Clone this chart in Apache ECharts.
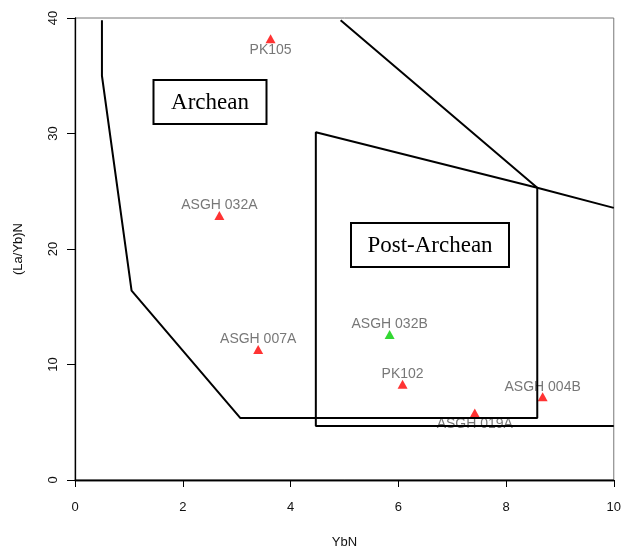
<!DOCTYPE html>
<html>
<head>
<meta charset="utf-8">
<script src="https://cdn.jsdelivr.net/npm/echarts@6/dist/echarts.min.js"></script>
<style>
  html, body { margin: 0; padding: 0; background: #fff; }
  #chart { width: 624px; height: 554px; }
</style>
</head>
<body>
<div id="chart"></div>
<script>
// Sample compositions (chondrite-normalised)
const sampleNames = ["PK105", "ASGH 032A", "ASGH 007A", "ASGH 032B", "PK102", "ASGH 019A", "ASGH 004B"];
const ybN = [3.63, 2.68, 3.40, 5.84, 6.08, 7.42, 8.68];
const laYbN = [38.2, 22.9, 11.3, 12.6, 8.3, 5.8, 7.2];
const sampleGroup = ["red", "red", "red", "green", "red", "red", "red"];
const labelBelow = [true, false, false, false, false, true, false];

// Field boundaries
const archeanX = [0.5, 0.5, 1.05, 3.07, 8.58, 8.58, 4.93];
const archeanY = [39.8, 35.0, 16.4, 5.36, 5.36, 25.3, 39.8];
const postArcheanX = [10, 4.47, 4.47, 8.58, 10];
const postArcheanY = [4.67, 4.67, 30.1, 25.3, 23.56];

// Field names and where they sit (centre of each framed label)
const fieldNames = ["Archean", "Post-Archean"];
const fieldX = [2.51, 6.58];
const fieldY = [32.7, 20.34];

const groupColor = { red: "#ff0000", green: "#00cd00" };

const zip = (xs, ys) => xs.map((x, i) => [x, ys[i]]);

const sampleData = sampleNames.map((n, i) => ({
  name: n,
  value: [ybN[i], laYbN[i]],
  itemStyle: { color: groupColor[sampleGroup[i]] },
  label: { offset: [0, labelBelow[i] ? 11 : -10] }
}));

const axisFont = "'Liberation Sans', Arial, sans-serif";
const serifFont = "'Liberation Serif', 'Times New Roman', serif";

const chart = echarts.init(document.getElementById("chart"), null, { renderer: "canvas" });
chart.setOption({
  animation: false,
  backgroundColor: "#fff",
  grid: { left: 75, right: 10, top: 18, bottom: 70, show: true, borderColor: "#777", borderWidth: 1 },
  xAxis: [{
    type: "value", min: 0, max: 10, interval: 2,
    name: "YbN", nameLocation: "middle", nameGap: 56,
    nameTextStyle: { fontFamily: axisFont, fontSize: 13, color: "#111" },
    axisLine: { show: true, onZero: false, lineStyle: { color: "#000", width: 1.3 } },
    axisTick: { show: true, length: 7, lineStyle: { color: "#000", width: 1 } },
    axisLabel: { fontFamily: axisFont, fontSize: 13, color: "#111", margin: 21 },
    splitLine: { show: false }
  }, {
    type: "value", min: 0, max: 10, position: "top",
    axisLine: { show: true, lineStyle: { color: "#000", width: 1.3 } },
    axisTick: { show: false }, axisLabel: { show: false }, splitLine: { show: false }
  }],
  yAxis: {
    type: "value", min: 0, max: 40, interval: 10,
    name: "(La/Yb)N", nameLocation: "middle", nameGap: 50, nameRotate: 90,
    nameTextStyle: { fontFamily: axisFont, fontSize: 13, color: "#111" },
    axisLine: { show: true, onZero: false, lineStyle: { color: "#000", width: 1.3 } },
    axisTick: { show: true, length: 8, lineStyle: { color: "#000", width: 1 } },
    axisLabel: { fontFamily: axisFont, fontSize: 13, color: "#111", rotate: 90, margin: 15 },
    splitLine: { show: false }
  },
  series: [
    {
      type: "scatter", data: sampleData, symbol: "triangle", symbolSize: [10, 9], z: 1, silent: true,
      label: {
        show: true, position: "inside", formatter: "{b}",
        fontFamily: axisFont, fontSize: 14, color: "#555",
        textBorderWidth: 0, textShadowBlur: 0
      }
    },
    {
      type: "line", data: zip(archeanX, archeanY), showSymbol: false, symbol: "none",
      lineStyle: { color: "#000", width: 2 }, silent: true, z: 2
    },
    {
      type: "line", data: zip(postArcheanX, postArcheanY), showSymbol: false, symbol: "none",
      lineStyle: { color: "#000", width: 2 }, silent: true, z: 2
    }
  ]
});

// Framed field names, placed through the chart's own coordinate conversion
const boxW = [113, 158];
const boxH = 44;
const fieldGraphics = [];
fieldNames.forEach((name, i) => {
  const p = chart.convertToPixel({ gridIndex: 0 }, [fieldX[i], fieldY[i]]);
  const cx = Math.round(p[0]);
  const cy = Math.round(p[1]);
  fieldGraphics.push({
    type: "rect", z: 10,
    shape: { x: cx - boxW[i] / 2, y: cy - boxH / 2, width: boxW[i], height: boxH },
    style: { fill: "#fff", stroke: "#000", lineWidth: 2 }
  });
  fieldGraphics.push({
    type: "text", z: 11, x: cx, y: cy + 1,
    style: {
      text: name, fill: "#000", font: "23px " + serifFont,
      align: "center", verticalAlign: "middle"
    }
  });
});
chart.setOption({ graphic: fieldGraphics });
</script>
</body>
</html>
